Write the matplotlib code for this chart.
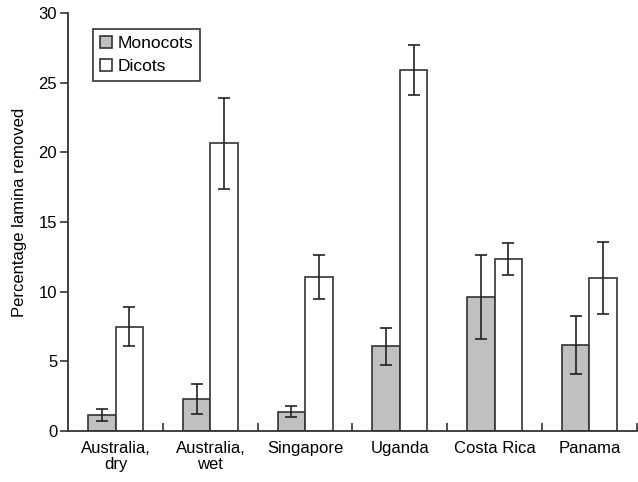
import numpy as np
import matplotlib.pyplot as plt

plt.rcParams['font.family'] = ['Liberation Sans', 'DejaVu Sans']
plt.rcParams['font.size'] = 12

# Data
sites = ['Australia,\ndry', 'Australia,\nwet', 'Singapore', 'Uganda', 'Costa Rica', 'Panama']
monocots = [1.15, 2.28, 1.39, 6.08, 9.6, 6.18]
monocots_err = [0.43, 1.1, 0.42, 1.34, 3.0, 2.1]
dicots = [7.47, 20.65, 11.06, 25.91, 12.36, 10.97]
dicots_err = [1.39, 3.27, 1.57, 1.77, 1.15, 2.6]

fig = plt.figure(figsize=(6.38, 4.82), dpi=100)
ax = fig.add_axes([0.107, 0.106, 0.891, 0.867])

x = np.arange(len(sites)) + 0.5
w = 0.29
edge = '#333333'
err_kw = dict(ecolor='#222222', elinewidth=1.2, capsize=4, capthick=1.2)

ax.bar(x - w / 2, monocots, w, yerr=monocots_err, color='#c0c0c0',
       edgecolor=edge, linewidth=1.2, label='Monocots', error_kw=err_kw)
ax.bar(x + w / 2, dicots, w, yerr=dicots_err, color='white',
       edgecolor=edge, linewidth=1.2, label='Dicots', error_kw=err_kw)

ax.set_xlim(0, len(sites))
ax.set_ylim(0, 30)
ax.set_yticks(range(0, 31, 5))
ax.set_xticks(x)
ax.set_xticklabels(sites, linespacing=1.1)
ax.set_xticks(np.arange(1, len(sites) + 1), minor=True)
ax.tick_params(axis='x', which='major', length=0, pad=7)
ax.tick_params(axis='x', which='minor', direction='in', length=6, width=1.2, color=edge)
ax.tick_params(axis='y', direction='out', length=6, width=1.2, color=edge, pad=2)
ax.set_ylabel('Percentage lamina removed')
ax.yaxis.set_label_coords(-0.072, 0.524)

for s in ['top', 'right']:
    ax.spines[s].set_visible(False)
for s in ['left', 'bottom']:
    ax.spines[s].set_linewidth(1.3)
    ax.spines[s].set_color(edge)

leg = ax.legend(loc='upper left', bbox_to_anchor=(0.044, 0.962), fancybox=False,
                edgecolor='black', handlelength=0.7, handleheight=0.7,
                handletextpad=0.3, borderpad=0.4, borderaxespad=0,
                labelspacing=0.45, fontsize=12.5)
leg.get_frame().set_linewidth(1.2)

plt.savefig('out.png', dpi=100)
